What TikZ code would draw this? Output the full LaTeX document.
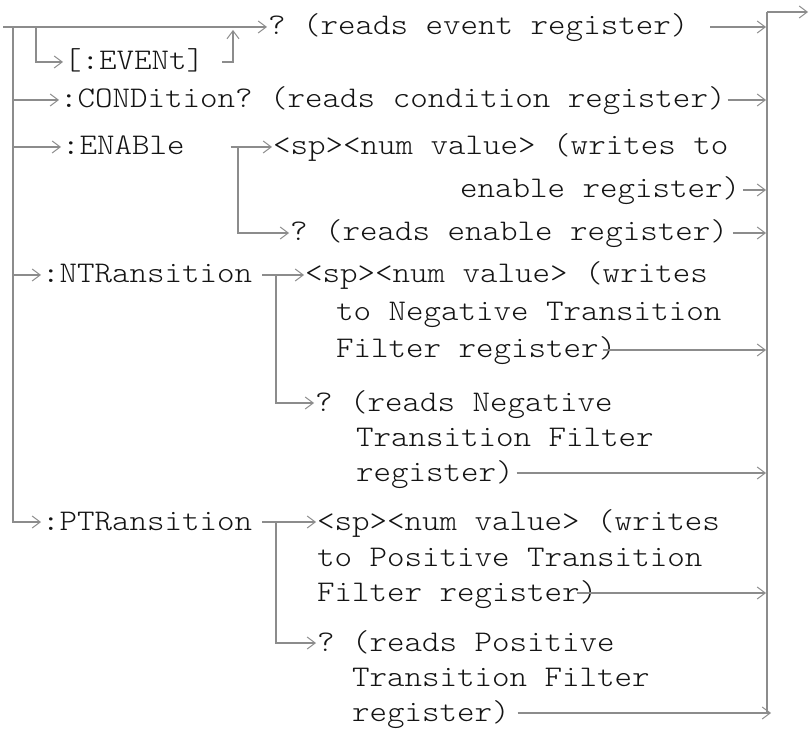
\documentclass[tikz,border=0pt]{standalone}
\usepackage{fontspec}
\newfontfamily\courfont[FakeStretch=1.112]{lmmonolt10-regular.otf}
\usetikzlibrary{arrows.meta,calc}
\definecolor{lncol}{RGB}{140,140,140}
\definecolor{txcol}{RGB}{20,20,20}
\begin{document}
\begin{tikzpicture}[x=1pt,y=-1pt,
  txt/.style={anchor=base west,inner sep=0pt,outer sep=0pt,text=txcol,
    font=\courfont\fontsize{30}{36}\selectfont\frenchspacing,text height=21pt,text depth=5pt},
  ln/.style={draw=lncol,line width=1.4pt},
  arr/.style={ln,-{Straight Barb[length=8pt,width=12pt,line width=1pt]},shorten >=1pt}]
\useasboundingbox (0,0) rectangle (812,730);
% texts
\node[txt] (t1) at (268,35) {? (reads event register)};
\node[txt] (t2) at (64,70) {[:EVENt]};
\node[txt] (t3) at (60,108) {:CONDition? (reads condition register)};
\node[txt] (t4) at (62,155) {:ENABle};
\node[txt] (t5) at (273,155) {<sp><num value> (writes to};
\node[txt] (t6) at (460,198) {enable register)};
\node[txt] (t7) at (290,241) {? (reads enable register)};
\node[txt] (t8) at (42,283) {:NTRansition};
\node[txt] (t9) at (305,283) {<sp><num value> (writes};
\node[txt] (t10) at (336,320) {to Negative Transition};
\node[txt] (t11) at (336,358) {Filter register)};
\node[txt] (t12) at (315,411) {? (reads Negative};
\node[txt] (t13) at (356,446) {Transition Filter};
\node[txt] (t14) at (356,481) {register)};
\node[txt] (t15) at (42,530) {:PTRansition};
\node[txt] (t16) at (317,530) {<sp><num value> (writes};
\node[txt] (t17) at (317,566) {to Positive Transition};
\node[txt] (t18) at (317,601) {Filter register)};
\node[txt] (t19) at (317,651) {? (reads Positive};
\node[txt] (t20) at (352,686) {Transition Filter};
\node[txt] (t21) at (352,721) {register)};
% coordinates
\coordinate (start) at (3,27);
\coordinate (mv) at (13,27);
\coordinate (ev) at (36,27);
\coordinate (evup) at (233,29);
\coordinate (enV) at (238,0);
\coordinate (nV) at (276,0);
\coordinate (bus) at (767,0);
\coordinate (btop) at (767,12);
\coordinate (bbot) at (767,714);
\coordinate (bout) at (809,12);
% left tree
\draw[arr] (start) -- (t1.west);
\draw[arr] (mv) |- (t15.west);
\draw[arr] (mv |- t3.west) -- (t3.west);
\draw[arr] (mv |- t4.west) -- (t4.west);
\draw[arr] (mv |- t8.west) -- (t8.west);
\draw[arr] (ev) |- (t2.west);
\draw[arr] ([xshift=18pt]t2.east) -| (evup);
% ENABle
\draw[arr] ([xshift=46pt]t4.east) -- (t5.west);
\draw[arr] (enV |- t4.west) |- (t7.west);
% NTRansition
\draw[arr] ([xshift=10pt]t8.east) -- (t9.west);
\draw[arr] (nV |- t8.west) |- (t12.west);
% PTRansition
\draw[arr] ([xshift=10pt]t15.east) -- (t16.west);
\draw[arr] (nV |- t15.west) |- (t19.west);
% right bus
\draw[ln] (bbot) -- (btop);
\draw[arr] (btop) -- (bout);
\draw[arr] ([xshift=22pt]t1.east) -- (t1.east -| bus);
\draw[arr] ([xshift=2pt]t3.east) -- (t3.east -| bus);
\draw[arr] ([xshift=3pt]t6.east) -- (t6.east -| bus);
\draw[arr] ([xshift=5pt]t7.east) -- (t7.east -| bus);
\draw[arr] ([xshift=-13pt]t11.east) -- (t11.east -| bus);
\draw[arr] ([xshift=3pt]t14.east) -- (t14.east -| bus);
\draw[arr] ([xshift=-20pt]t18.east) -- (t18.east -| bus);
\draw[arr] ([xshift=8pt]t21.east) -- ([xshift=5pt]t21.east -| bus);
\end{tikzpicture}
\end{document}
